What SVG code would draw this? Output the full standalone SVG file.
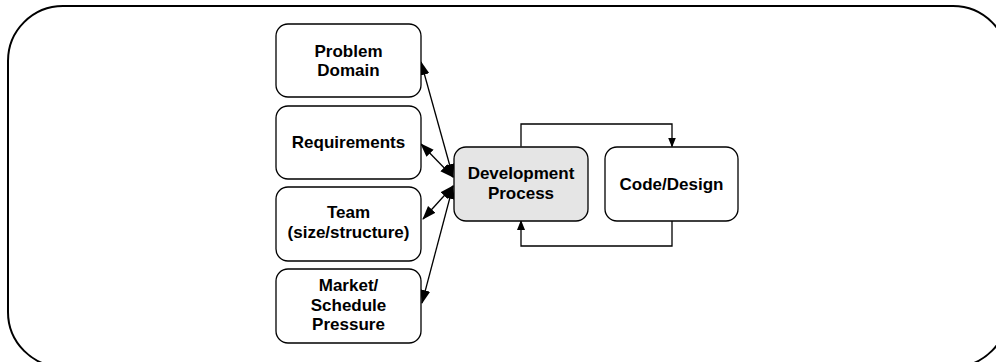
<svg xmlns="http://www.w3.org/2000/svg" width="996" height="362" viewBox="0 0 996 362">
<style>
.box{fill:#fff;stroke:#000;stroke-width:1.3}
.dp{fill:#e5e5e5;stroke:#000;stroke-width:1.3}
text{font-family:"Liberation Sans",Arial,sans-serif;font-weight:bold;font-size:17px;text-anchor:middle;fill:#000}
.c{fill:none;stroke:#000;stroke-width:1.3}
</style>
<defs>
<marker id="big" markerUnits="userSpaceOnUse" markerWidth="14" markerHeight="12" refX="13" refY="5" orient="auto-start-reverse" viewBox="0 0 14 10">
<path d="M0,0 L14,5 L0,10 Z" fill="#000"/>
</marker>
<marker id="small" markerUnits="userSpaceOnUse" markerWidth="10" markerHeight="8" refX="9" refY="4" orient="auto" viewBox="0 0 10 8">
<path d="M0,0 L10,4 L0,8 Z" fill="#000"/>
</marker>
</defs>
<rect x="8" y="6" width="1000" height="361" rx="55" ry="55" fill="none" stroke="#000" stroke-width="2"/>
<g id="connectors">
<line class="c" x1="453" y1="177" x2="421" y2="62" marker-start="url(#big)" marker-end="url(#big)"/>
<line class="c" x1="453" y1="177" x2="421" y2="144" marker-start="url(#big)" marker-end="url(#big)"/>
<line class="c" x1="453" y1="186" x2="423" y2="219" marker-start="url(#big)" marker-end="url(#big)"/>
<line class="c" x1="453" y1="186" x2="422" y2="303" marker-start="url(#big)" marker-end="url(#big)"/>
<polyline class="c" points="521,146.5 521,124 672,124 672,146.5" marker-end="url(#small)"/>
<polyline class="c" points="672,221 672,246 521,246 521,221" marker-end="url(#small)"/>
</g>
<g id="problem-domain">
<rect class="box" x="276" y="24" width="145" height="73" rx="12"/>
<text x="348.5" y="57">Problem</text>
<text x="348.5" y="76">Domain</text>
</g>
<g id="requirements">
<rect class="box" x="276" y="106" width="145" height="73" rx="12"/>
<text x="348.5" y="148">Requirements</text>
</g>
<g id="team">
<rect class="box" x="276" y="187" width="145" height="74" rx="12"/>
<text x="348.5" y="218">Team</text>
<text x="348.5" y="238">(size/structure)</text>
</g>
<g id="market">
<rect class="box" x="276" y="269" width="145" height="74" rx="12"/>
<text x="348.5" y="291">Market/</text>
<text x="348.5" y="310.5">Schedule</text>
<text x="348.5" y="330">Pressure</text>
</g>
<g id="development-process">
<rect class="dp" x="454" y="147" width="134" height="74" rx="12"/>
<text x="521" y="178.5">Development</text>
<text x="521" y="199">Process</text>
</g>
<g id="code-design">
<rect class="box" x="605" y="147" width="133" height="74" rx="12"/>
<text x="671.5" y="189.5">Code/Design</text>
</g>
</svg>
